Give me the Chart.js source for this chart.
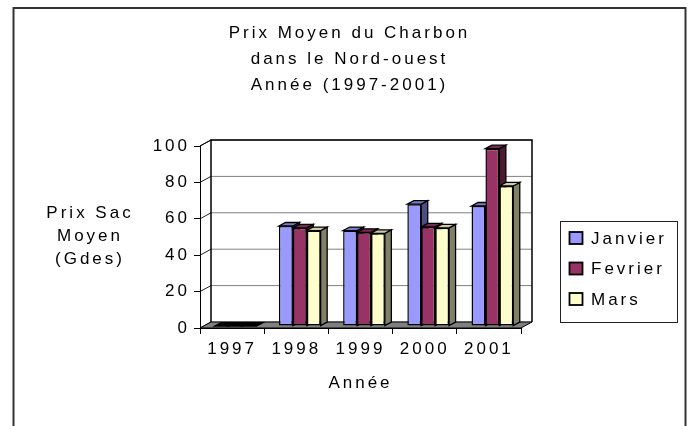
<!DOCTYPE html>
<html><head><meta charset="utf-8">
<script src="https://cdn.jsdelivr.net/npm/chart.js@4.4.0/dist/chart.umd.min.js"></script>
<style>html,body{margin:0;padding:0;background:#fff;} canvas{display:block;}</style>
</head><body>
<canvas id="c" width="693" height="426"></canvas>
<script>
// ---- data ----
const categories = ['1997', '1998', '1999', '2000', '2001'];
const seriesNames = ['Janvier', 'Fevrier', 'Mars'];
const janvier = [0, 55, 52.5, 67, 66];
const fevrier = [0, 54, 51.5, 54.5, 97.5];
const mars = [0, 52.5, 51, 54, 77];
const yTickValues = [0, 20, 40, 60, 80, 100];
const titleLines = ['Prix Moyen du Charbon', 'dans le Nord-ouest', 'Année (1997-2001)'];
const yTitleLines = ['Prix Sac', 'Moyen', '(Gdes)'];
const xTitle = 'Année';

// ---- styles ----
const FONT = "'Liberation Sans', Arial, sans-serif";
const frontColors = ['#9999FF', '#993366', '#FFFFCC'];
const topColors = ['#7A7ACC', '#7A2952', '#CCCCA3'];
const sideColors = ['#4D4D80', '#4D1A33', '#808066'];
const WALL_DX = 11, WALL_DY = -6;
const BAR_OX = 3.5, BAR_OY = -1.9;
const BAR_DX = 6.5, BAR_DY = -3.5;

function poly(ctx, pts, fill, stroke, lw) {
  ctx.beginPath();
  ctx.moveTo(pts[0][0], pts[0][1]);
  for (let i = 1; i < pts.length; i++) ctx.lineTo(pts[i][0], pts[i][1]);
  ctx.closePath();
  if (fill) { ctx.fillStyle = fill; ctx.fill(); }
  if (stroke) { ctx.strokeStyle = stroke; ctx.lineWidth = lw || 1; ctx.stroke(); }
}
function line(ctx, x1, y1, x2, y2, color, lw) {
  ctx.beginPath(); ctx.moveTo(x1, y1); ctx.lineTo(x2, y2);
  ctx.strokeStyle = color; ctx.lineWidth = lw || 1; ctx.stroke();
}

const threeD = {
  id: 'threeD',
  afterLayout(chart) {
    // centre the title block on the whole frame
    const t = chart.titleBlock;
    if (t) { t.left = 6; t.right = 693; }
  },
  beforeDraw(chart) {
    const ctx = chart.ctx;
    ctx.letterSpacing = '3px';
    ctx.save();
    ctx.fillStyle = '#fff';
    ctx.fillRect(0, 0, chart.width, chart.height);
    ctx.strokeStyle = '#333'; ctx.lineWidth = 2;
    ctx.strokeRect(13.5, 8, 672, 440);
    const a = chart.chartArea, ys = chart.scales.y;
    const L = a.left, R = a.right, T = a.top, B = a.bottom;
    // walls
    poly(ctx, [[L, T], [L + WALL_DX, T + WALL_DY], [L + WALL_DX, B + WALL_DY], [L, B]], '#fff');
    ctx.fillStyle = '#fff';
    ctx.fillRect(L + WALL_DX, T + WALL_DY, R - L, B - T);
    // gridlines
    ys.ticks.forEach(t => {
      const py = ys.getPixelForValue(t.value);
      line(ctx, L, py, L + WALL_DX, py + WALL_DY, '#222', 1);
      line(ctx, L + WALL_DX, py + WALL_DY, R + WALL_DX, py + WALL_DY, '#808080', 1);
    });
    // back wall outline
    ctx.strokeStyle = '#000'; ctx.lineWidth = 1.5;
    ctx.beginPath();
    ctx.moveTo(L + WALL_DX, B + WALL_DY);
    ctx.lineTo(L + WALL_DX, T + WALL_DY);
    ctx.lineTo(R + WALL_DX, T + WALL_DY);
    ctx.lineTo(R + WALL_DX, B + WALL_DY);
    ctx.stroke();
    line(ctx, L, T, L + WALL_DX, T + WALL_DY, '#000', 1);
    // floor
    poly(ctx, [[L, B], [R, B], [R + WALL_DX, B + WALL_DY], [L + WALL_DX, B + WALL_DY]], '#808080', '#000', 1);
    // y axis title (horizontal, 3 lines)
    ctx.fillStyle = '#000';
    ctx.font = '17px ' + FONT;
    ctx.textAlign = 'center';
    ctx.textBaseline = 'middle';
    const yc = [213, 236, 259];
    yTitleLines.forEach((s, i) => ctx.fillText(s, 90, yc[i]));
    ctx.restore();
  },
  beforeDatasetsDraw(chart) {
    const ctx = chart.ctx;
    ctx.save();
    ctx.translate(BAR_OX, BAR_OY);
    const metas = chart.getSortedVisibleDatasetMetas();
    for (let j = 0; j < categories.length; j++) {
      metas.forEach((meta) => {
        const di = meta.index;
        const el = meta.data[j];
        if (!el) return;
        const p = el.getProps(['x', 'y', 'base', 'width'], true);
        const l = p.x - p.width / 2, r = p.x + p.width / 2;
        const top = Math.min(p.y, p.base), bot = Math.max(p.y, p.base);
        const zero = (bot - top) < 0.5;
        if (!zero) {
          poly(ctx, [[r, top], [r + BAR_DX, top + BAR_DY], [r + BAR_DX, bot + BAR_DY], [r, bot]], sideColors[di], '#000', 1.3);
        }
        poly(ctx, [[l, top], [l + BAR_DX, top + BAR_DY], [r + BAR_DX, top + BAR_DY], [r, top]], zero ? '#000' : topColors[di], '#000', 1.3);
      });
    }
  },
  afterDatasetsDraw(chart) {
    chart.ctx.restore();
  },
  afterDraw(chart) {
    const ctx = chart.ctx;
    ctx.save();
    ctx.strokeStyle = '#222'; ctx.lineWidth = 1;
    ctx.strokeRect(560.5, 221.5, 117, 101);
    ctx.font = '17px ' + FONT;
    ctx.textAlign = 'left';
    ctx.textBaseline = 'middle';
    const ly = [238, 268.5, 299];
    chart.data.datasets.forEach((ds, i) => {
      ctx.fillStyle = ds.backgroundColor;
      ctx.fillRect(569.5, ly[i] - 6, 13, 12);
      ctx.strokeStyle = '#000'; ctx.lineWidth = 1.8;
      ctx.strokeRect(569.5, ly[i] - 6, 13, 12);
      ctx.fillStyle = '#000';
      ctx.fillText(ds.label, 591, ly[i] + 1);
    });
    ctx.restore();
  }
};

const seriesValues = [janvier, fevrier, mars];
new Chart(document.getElementById('c'), {
  type: 'bar',
  data: {
    labels: categories,
    datasets: seriesNames.map((n, i) => ({
      label: n,
      data: seriesValues[i],
      backgroundColor: frontColors[i],
      borderColor: '#000',
      borderWidth: 1.5,
      borderSkipped: false,
      categoryPercentage: 0.65,
      barPercentage: 1.0
    }))
  },
  options: {
    responsive: false,
    devicePixelRatio: 1,
    animation: false,
    layout: { padding: { left: 140, right: 172, top: 0, bottom: 28 } },
    plugins: {
      legend: { display: false },
      tooltip: { enabled: false },
      title: {
        display: true,
        text: titleLines,
        color: '#000',
        font: { family: FONT, size: 17, weight: 'normal', lineHeight: 26 / 17 },
        padding: { top: 20, bottom: 48 }
      }
    },
    scales: {
      x: {
        type: 'category',
        offset: true,
        grid: { drawOnChartArea: false, tickLength: 6, color: '#000', offset: true },
        border: { display: true, color: '#000', width: 1 },
        ticks: { color: '#000', font: { family: FONT, size: 17 }, padding: 5, autoSkip: false, maxRotation: 0 },
        title: { display: true, text: xTitle, color: '#000', font: { family: FONT, size: 17 }, padding: { top: 0, bottom: 4 } },
        afterFit(s) { s.height = 70; }
      },
      y: {
        min: 0, max: 100,
        afterBuildTicks(s) { s.ticks = yTickValues.map(v => ({ value: v })); },
        grid: { drawOnChartArea: false, tickLength: 6, color: '#000' },
        border: { display: true, color: '#000', width: 1 },
        ticks: { color: '#000', font: { family: FONT, size: 17 }, padding: 4 },
        afterFit(s) { s.width = 60; }
      }
    }
  },
  plugins: [threeD]
});
</script>
</body></html>
